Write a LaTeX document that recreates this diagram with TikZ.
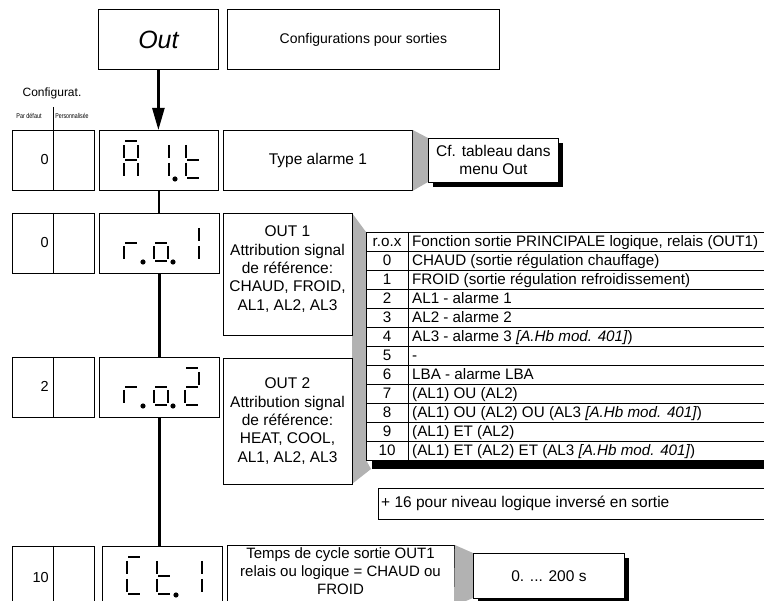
\documentclass[tikz,border=0pt]{standalone}
\usepackage{fontspec}
\setmainfont{Liberation Sans}
\usepackage{graphicx}
\usetikzlibrary{arrows.meta}
\newcommand\txt[2]{\fontsize{#1}{#2}\selectfont}
\newcommand\sgA[2]{\draw[seg] ({#1+1},{#2-19}) -- ({#1+13},{#2-19});}
\newcommand\sgB[2]{\draw[seg] ({#1+14},{#2-15}) -- ({#1+14},{#2-2});}
\newcommand\sgC[2]{\draw[seg] ({#1+14},{#2+3}) -- ({#1+14},{#2+16});}
\newcommand\sgD[2]{\draw[seg] ({#1+1},{#2+18}) -- ({#1+13},{#2+18});}
\newcommand\sgE[2]{\draw[seg] ({#1},{#2+3}) -- ({#1},{#2+16});}
\newcommand\sgF[2]{\draw[seg] ({#1},{#2-15}) -- ({#1},{#2-2});}
\newcommand\sgG[2]{\draw[seg] ({#1+1},{#2}) -- ({#1+13},{#2});}
\newcommand\sgP[2]{\fill ({#1+20},{#2+19}) circle (2.6);}
\begin{document}
\begin{tikzpicture}[x=1pt,y=-1pt,
  box/.style={draw, line width=0.8pt, fill=white, inner sep=2pt, align=center, anchor=north west},
  lbl/.style={inner sep=0pt, align=center},
  seg/.style={line width=2.5pt},
  conn/.style={line width=2.4pt},
  wedge/.style={fill=black!30},
  cell/.style={inner sep=0pt, anchor=base},
  celltext/.style={inner sep=0pt, anchor=base west},
  tline/.style={line width=0.8pt}]
\useasboundingbox (0,0) rectangle (764,601);
\clip (0,0) rectangle (764,601);

% top row
\node[box, minimum width=120pt, minimum height=60pt, font=\txt{25}{30}\itshape] (out) at (98,9) {Out};
\node[box, minimum width=272pt, minimum height=60pt, font=\txt{14}{17}] (conf) at (227,9) {Configurations pour sorties};

% config header
\node[lbl, font=\txt{12}{14}] (cfgt) at (52,93) {Configurat.};
\node[lbl] (pardef) at (29,116) {\scalebox{0.78}[1]{\txt{7}{8}Par défaut}};
\node[lbl] (perso) at (72,116) {\scalebox{0.75}[1]{\txt{7}{8}Personnalisée}};
\draw[line width=0.6pt] (53,107) -- (53,130);

% row 1
\node[box, minimum width=82pt, minimum height=60pt] (cfg1) at (12,130) {};
\node[box, minimum width=119pt, minimum height=60pt] (disp1) at (99,130) {};
\node[box, minimum width=189pt, minimum height=60pt, font=\txt{15.5}{18}] (type) at (223,130) {Type alarme 1};
\fill[wedge] (type.north east) -- (428,138) -- (428,182) -- (type.south east) -- cycle;
\fill (433,143) rectangle (563,187);
\node[box, minimum width=130pt, minimum height=44pt, font=\txt{15.5}{18}] (cf) at (428,138) {Cf. tableau dans\\menu Out};

% row 2
\node[box, minimum width=82pt, minimum height=60pt] (cfg2) at (12,213) {};
\node[box, minimum width=120pt, minimum height=60pt] (disp2) at (99,213) {};

% row 3
\node[box, minimum width=82pt, minimum height=60pt] (cfg3) at (12,357) {};
\node[box, minimum width=120pt, minimum height=60pt] (disp3) at (99,357) {};

% table wedge and table
\fill[wedge] (352,213) -- (366,232) -- (366,460) -- (371,469) -- (352,484) -- cycle;
\fill (372,238) rectangle (790,469);
\filldraw[tline, fill=white] (366,232) rectangle (790,460);
\foreach \k in {1,...,11} {\draw[tline] (366,{232+19*\k}) -- (790,{232+19*\k});}
\draw[tline] (408,232) -- (408,460);

\node[box, minimum width=129pt, minimum height=122pt] (out1) at (223,213) {};
\node[lbl, font=\txt{15.5}{18.3}] (out1t) at (287.5,269) {OUT 1\\Attribution signal\\de référence:\\CHAUD, FROID,\\AL1, AL2, AL3};
\node[box, minimum width=129pt, minimum height=126pt] (out2) at (223,358) {};
\node[lbl, font=\txt{15.5}{18.3}] (out2t) at (287.5,421) {OUT 2\\Attribution signal\\de référence:\\HEAT, COOL,\\AL1, AL2, AL3};

\begin{scope}[every node/.append style={font=\txt{15.2}{18}}]
\node[cell] (n0) at (387,246.5) {r.o.x};
\node[celltext] (t0) at (412,246.5) {Fonction sortie PRINCIPALE logique, relais (OUT1)};
\node[cell] (n1) at (387,265.5) {0};
\node[celltext] (t1) at (412,265.5) {CHAUD (sortie régulation chauffage)};
\node[cell] (n2) at (387,284.5) {1};
\node[celltext] (t2) at (412,284.5) {FROID (sortie régulation refroidissement)};
\node[cell] (n3) at (387,303.5) {2};
\node[celltext] (t3) at (412,303.5) {AL1 - alarme 1};
\node[cell] (n4) at (387,322.5) {3};
\node[celltext] (t4) at (412,322.5) {AL2 - alarme 2};
\node[cell] (n5) at (387,341.5) {4};
\node[celltext] (t5) at (412,341.5) {AL3 - alarme 3 \textit{[A.Hb mod. 401]})};
\node[cell] (n6) at (387,360.5) {5};
\node[celltext] (t6) at (412,360.5) {-};
\node[cell] (n7) at (387,379.5) {6};
\node[celltext] (t7) at (412,379.5) {LBA - alarme LBA};
\node[cell] (n8) at (387,398.5) {7};
\node[celltext] (t8) at (412,398.5) {(AL1) OU (AL2)};
\node[cell] (n9) at (387,417.5) {8};
\node[celltext] (t9) at (412,417.5) {(AL1) OU (AL2) OU (AL3 \textit{[A.Hb mod. 401]})};
\node[cell] (n10) at (387,436.5) {9};
\node[celltext] (t10) at (412,436.5) {(AL1) ET (AL2)};
\node[cell] (n11) at (387,455.5) {10};
\node[celltext] (t11) at (412,455.5) {(AL1) ET (AL2) ET (AL3 \textit{[A.Hb mod. 401]})};
\end{scope}

% plus box
\node[box, minimum width=420pt, minimum height=31pt] (plus) at (378,488) {};
\node[lbl, anchor=west, font=\txt{15.5}{18}] (plust) at (381,503.5) {+ 16 pour niveau logique inversé en sortie};

% row 4
\node[box, minimum width=82pt, minimum height=62pt] (cfg4) at (12,546) {};
\node[box, minimum width=120pt, minimum height=62pt] (disp4) at (102,546) {};
\node[box, minimum width=227pt, minimum height=62pt] (temps) at (227,545) {};
\node[lbl, font=\txt{15}{18}] (tempst) at (340.5,571) {Temps de cycle sortie OUT1\\relais ou logique = CHAUD ou\\FROID};
\fill[wedge] (temps.north east) -- (473,553) -- (473,598) -- (454,606) -- cycle;
\fill (478,558) rectangle (629,603);
\node[box, minimum width=151pt, minimum height=45pt, font=\txt{15.5}{18}] (range) at (473,553) {0. ... 200 s};

% config dividers and values
\foreach \b in {cfg1,cfg2,cfg3,cfg4} {\draw[line width=0.6pt] (\b.north west -| 53,0) -- (\b.south west -| 53,0);}
\node[lbl, anchor=base east, font=\txt{14.5}{17}] (v1) at (49,165) {0};
\node[lbl, anchor=base east, font=\txt{14.5}{17}] (v2) at (49,248) {0};
\node[lbl, anchor=base east, font=\txt{14.5}{17}] (v3) at (49,392) {2};
\node[lbl, anchor=base east, font=\txt{14.5}{17}] (v4) at (49,583) {10};

% connectors
\draw[conn, -{Triangle[length=22pt,width=12pt]}] (out.south) -- (out.south |- disp1.north);
\draw[conn] (disp1.south) -- (disp1.south |- disp2.north);
\draw[conn] (disp2.south) -- (disp2.south |- disp3.north);
\draw[conn] (disp3.south) -- (disp3.south |- disp4.north);

% seven segment displays
% row 1: A 1.t
\sgA{124}{160}\sgB{124}{160}\sgC{124}{160}\sgE{124}{160}\sgF{124}{160}\sgG{124}{160}
\sgB{155}{160}\sgC{155}{160}\sgP{155}{160}
\sgF{186}{160}\sgE{186}{160}\sgG{186}{160}\sgD{186}{160}
% row 2: r.o. 1
\sgE{124}{243}\sgG{124}{243}\sgP{123}{243}
\sgE{154}{243}\sgG{154}{243}\sgC{154}{243}\sgD{154}{243}\sgP{153}{243}
\sgB{185}{243}\sgC{185}{243}
% row 3: r.o.2
\sgE{124}{387}\sgG{124}{387}\sgP{123}{387}
\sgE{154}{387}\sgG{154}{387}\sgC{154}{387}\sgD{154}{387}\sgP{153}{387}
\sgA{185}{387}\sgB{185}{387}\sgG{185}{387}\sgE{185}{387}\sgD{185}{387}
% row 4: Ct.1
\sgA{127}{576}\sgF{127}{576}\sgE{127}{576}\sgD{127}{576}
\sgF{157}{576}\sgE{157}{576}\sgG{157}{576}\sgD{157}{576}\sgP{156}{576}
\sgB{188}{576}\sgC{188}{576}
\end{tikzpicture}
\end{document}
